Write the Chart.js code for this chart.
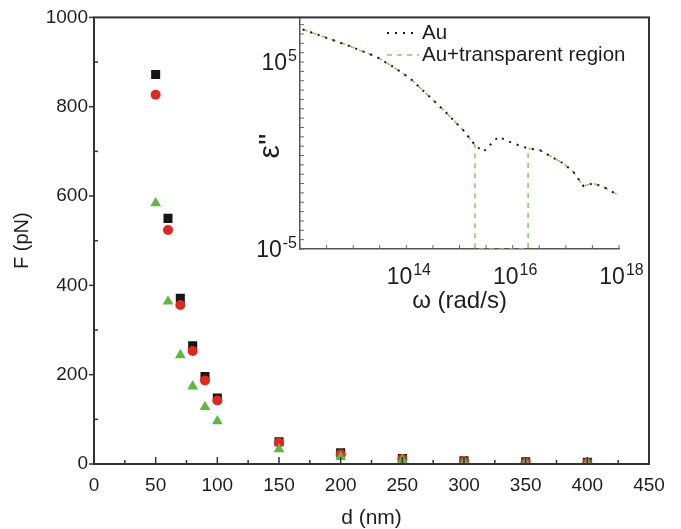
<!DOCTYPE html>
<html>
<head>
<meta charset="utf-8">
<script src="https://cdn.jsdelivr.net/npm/chart.js@4.4.0/dist/chart.umd.min.js"></script>
<style>
  body { margin: 0; background: #fff; }
  #wrap { position: relative; width: 681px; height: 529px; }
  #mainChart { position: absolute; left: 0; top: 0; }
  #insetChart { position: absolute; left: 230px; top: 0; }
</style>
</head>
<body>
<div id="wrap">
  <canvas id="mainChart" width="681" height="529"></canvas>
  <canvas id="insetChart" width="420" height="320"></canvas>
</div>
<script>
// main plot: force vs distance
var distance = [50, 60, 70, 80, 90, 100, 150, 200, 250, 300, 350, 400];
var forceSquares = [872, 550, 371, 265, 196, 148, 50, 25, 12, 7, 5, 4];
var forceCircles = [827, 524, 356, 253, 187, 142, 48, 22, 11, 6, 4, 3];
var forceTriangles = [584, 364, 244, 174, 128, 96, 33, 16, 9, 5, 3, 2];
var mainXLabels = [0, 50, 100, 150, 200, 250, 300, 350, 400, 450];
var mainYLabels = [0, 200, 400, 600, 800, 1000];

// inset: eps'' vs omega (log-log)
var omegaAu = [1.12e12, 7.59e12, 2.75e13, 5.62e13, 1.17e14, 2.75e14, 5.75e14, 1.17e15, 1.95e15,
               2.82e15, 5.37e15, 1.02e16, 1.95e16, 3.24e16, 8.91e16, 1.38e17, 2.14e17, 3.24e17, 5.01e17, 9.55e17];
var epsAu = [5.6e6, 8.1e5, 1.9e5, 5.6e4, 1.35e4, 1380, 182, 22.9, 3.63,
             1.58, 10.2, 4.47, 2.40, 1.95, 0.38, 0.135, 0.0234, 0.0324, 0.0214, 0.0078];
var omegaTransp = [1.12e12, 7.59e12, 2.75e13, 5.62e13, 1.17e14, 2.75e14, 5.75e14, 1.17e15, 1.95e15,
                   1.95e15, 1.95e16, 1.95e16, 3.24e16, 8.91e16, 1.38e17, 2.14e17, 3.24e17, 5.01e17, 9.55e17];
var epsTransp = [5.6e6, 8.1e5, 1.9e5, 5.6e4, 1.35e4, 1380, 182, 22.9, 3.63,
                 1e-5, 1e-5, 2.40, 1.95, 0.38, 0.135, 0.0234, 0.0324, 0.0214, 0.0078];
var insetXExp = [14, 16, 18];
var insetYExp = [5, -5];
var legendNames = ['Au', 'Au+transparent region'];

Chart.defaults.font.family = '"Liberation Sans", Arial, sans-serif';
Chart.defaults.color = '#1e1e1e';

function pts(xs, ys) {
  return xs.map(function (x, i) { return { x: x, y: ys[i] }; });
}

// frame and tick marks for the main plot
var mainDecor = {
  id: 'mainDecor',
  afterDraw: function (chart) {
    var ctx = chart.ctx, a = chart.chartArea;
    var xs = chart.scales.x, ys = chart.scales.y;
    ctx.save();
    ctx.strokeStyle = '#333';
    ctx.lineWidth = 1.5;
    xs.ticks.forEach(function (t) {
      var px = xs.getPixelForValue(t.value);
      var len = mainXLabels.indexOf(t.value) >= 0 ? 7 : 4;
      ctx.beginPath(); ctx.moveTo(px, a.bottom); ctx.lineTo(px, a.bottom - len); ctx.stroke();
    });
    ys.ticks.forEach(function (t) {
      var py = ys.getPixelForValue(t.value);
      ctx.beginPath();
      if (mainYLabels.indexOf(t.value) >= 0) { ctx.moveTo(a.left, py); ctx.lineTo(a.left - 5, py); }
      else { ctx.moveTo(a.left, py); ctx.lineTo(a.left + 4, py); }
      ctx.stroke();
    });
    ctx.lineWidth = 2;
    ctx.strokeRect(a.left, a.top, a.right - a.left, a.bottom - a.top);
    ctx.restore();
  }
};

new Chart(document.getElementById('mainChart'), {
  type: 'scatter',
  data: {
    datasets: [
      { label: 'squares', data: pts(distance, forceSquares), pointStyle: 'rect', pointRadius: 6.4,
        backgroundColor: '#161616', borderColor: '#161616', borderWidth: 0, order: 3 },
      { label: 'circles', data: pts(distance, forceCircles), pointStyle: 'circle', pointRadius: 5,
        backgroundColor: '#e5261f', borderColor: '#e5261f', borderWidth: 0, order: 2 },
      { label: 'triangles', data: pts(distance, forceTriangles), pointStyle: 'triangle', pointRadius: 6.2,
        backgroundColor: '#5cb843', borderColor: '#5cb843', borderWidth: 0, order: 1 }
    ]
  },
  options: {
    responsive: false,
    animation: false,
    layout: { padding: { top: 15, right: 32, left: 0, bottom: 0 } },
    plugins: { legend: { display: false }, tooltip: { enabled: false } },
    scales: {
      x: {
        type: 'linear', min: 0, max: 450,
        grid: { display: false, drawTicks: false },
        border: { display: false },
        ticks: {
          stepSize: 25, autoSkip: false, maxRotation: 0, padding: 10, font: { size: 19 },
          callback: function (v) { return mainXLabels.indexOf(v) >= 0 ? String(v) : ''; }
        },
        title: { display: true, text: 'd (nm)', font: { size: 21, lineHeight: 1 }, padding: { top: 0, bottom: 0 } },
        afterFit: function (s) { s.height = 65; }
      },
      y: {
        type: 'linear', min: 0, max: 1000,
        grid: { display: false, drawTicks: false },
        border: { display: false },
        ticks: {
          stepSize: 100, autoSkip: false, padding: 6, font: { size: 19 },
          callback: function (v) { return mainYLabels.indexOf(v) >= 0 ? String(v) : ''; }
        },
        title: { display: true, text: 'F (pN)', font: { size: 20, lineHeight: 1 }, padding: { top: 12, bottom: 0 } },
        afterFit: function (s) { s.width = 94; }
      }
    }
  },
  plugins: [mainDecor]
});

// inset: inward ticks, power labels, eps'' title and legend
function drawPow(ctx, exp, x, y, align) {
  ctx.font = '23px "Liberation Sans", Arial, sans-serif';
  var w10 = ctx.measureText('10').width;
  ctx.font = '16px "Liberation Sans", Arial, sans-serif';
  var wExp = ctx.measureText(String(exp)).width;
  var x0 = align === 'center' ? x - (w10 + wExp) / 2 : x - w10 - wExp;
  ctx.textAlign = 'left';
  ctx.textBaseline = 'alphabetic';
  ctx.font = '23px "Liberation Sans", Arial, sans-serif';
  ctx.fillText('10', x0, y);
  ctx.font = '16px "Liberation Sans", Arial, sans-serif';
  ctx.fillText(String(exp), x0 + w10 + 1, y - 9);
}

var insetDecor = {
  id: 'insetDecor',
  afterDraw: function (chart) {
    var ctx = chart.ctx, a = chart.chartArea;
    var xs = chart.scales.x, ys = chart.scales.y;
    ctx.save();
    ctx.strokeStyle = '#666';
    ctx.lineWidth = 1;
    xs.ticks.forEach(function (t) {
      var px = xs.getPixelForValue(t.value);
      ctx.beginPath(); ctx.moveTo(px, a.bottom); ctx.lineTo(px, a.bottom - 4); ctx.stroke();
    });
    ys.ticks.forEach(function (t) {
      var py = ys.getPixelForValue(t.value);
      ctx.beginPath(); ctx.moveTo(a.left, py); ctx.lineTo(a.left + 4, py); ctx.stroke();
    });
    ctx.fillStyle = '#1e1e1e';
    insetXExp.forEach(function (e) {
      drawPow(ctx, e, xs.getPixelForValue(Math.pow(10, e)) + 2, a.bottom + 35, 'center');
    });
    insetYExp.forEach(function (e) {
      drawPow(ctx, e, a.left - 4, ys.getPixelForValue(Math.pow(10, e)) + 8, 'right');
    });
    // y title
    ctx.save();
    ctx.translate(41, 146);
    ctx.rotate(-Math.PI / 2);
    ctx.font = '30px "Liberation Sans", Arial, sans-serif';
    ctx.textAlign = 'center';
    ctx.textBaseline = 'middle';
    ctx.fillText("\u03b5''", 0, 0);
    ctx.restore();
    // legend
    var ds = chart.data.datasets;
    var rows = [33, 55];
    ctx.font = '20.5px "Liberation Sans", Arial, sans-serif';
    ctx.textBaseline = 'middle';
    ctx.textAlign = 'left';
    ds.forEach(function (d, i) {
      ctx.strokeStyle = d.borderColor;
      ctx.lineWidth = d.borderWidth;
      ctx.setLineDash(d.borderDash);
      ctx.beginPath(); ctx.moveTo(157, rows[i]); ctx.lineTo(189, rows[i]); ctx.stroke();
      ctx.setLineDash([]);
      ctx.fillStyle = '#1e1e1e';
      ctx.fillText(legendNames[i], 192, rows[i]);
    });
    ctx.restore();
  }
};

function halfDecades(lo, hi) {
  var out = [];
  for (var e = lo; e <= hi; e += 0.5) out.push({ value: Math.pow(10, e) });
  return out;
}

new Chart(document.getElementById('insetChart'), {
  type: 'line',
  data: {
    datasets: [
      { label: legendNames[0], data: pts(omegaAu, epsAu), borderColor: '#1a1a1a', borderWidth: 2,
        borderDash: [2, 6], pointRadius: 0, tension: 0, fill: false, order: 1 },
      { label: legendNames[1], data: pts(omegaTransp, epsTransp), borderColor: '#86c865', borderWidth: 1.5,
        borderDash: [5, 5], pointRadius: 0, tension: 0, fill: false, order: 2 }
    ]
  },
  options: {
    responsive: false,
    animation: false,
    layout: { padding: { top: 19, right: 31, left: 0, bottom: 0 } },
    plugins: { legend: { display: false }, tooltip: { enabled: false } },
    scales: {
      x: {
        type: 'logarithmic', min: 1e12, max: 1e18,
        grid: { display: false, drawTicks: false },
        border: { display: true, color: '#555', width: 1.5 },
        ticks: { display: false },
        afterBuildTicks: function (s) { s.ticks = halfDecades(12, 18); },
        title: { display: true, text: '\u03c9 (rad/s)', font: { size: 24, lineHeight: 1 }, padding: { top: 0, bottom: 7 } },
        afterFit: function (s) { s.height = 71; }
      },
      y: {
        type: 'logarithmic', min: 1e-5, max: 2e7,
        grid: { display: false, drawTicks: false },
        border: { display: true, color: '#555', width: 1.5 },
        ticks: { display: false },
        afterBuildTicks: function (s) { s.ticks = halfDecades(-5, 7); },
        afterFit: function (s) { s.width = 70; }
      }
    }
  },
  plugins: [insetDecor]
});
</script>
</body>
</html>
